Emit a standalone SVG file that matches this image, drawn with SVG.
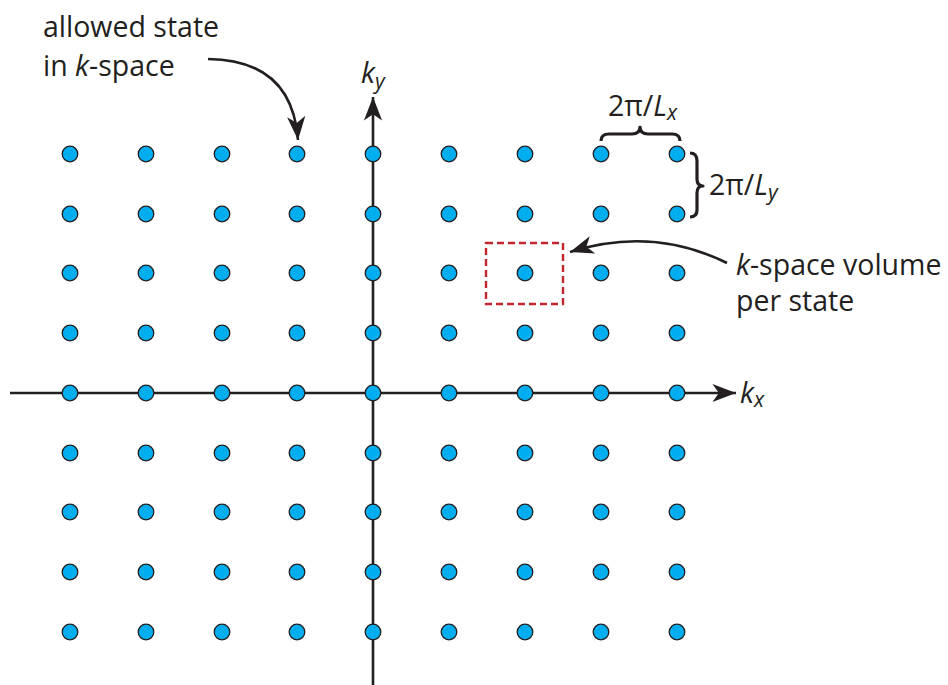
<svg xmlns="http://www.w3.org/2000/svg" width="948" height="685" viewBox="0 0 948 685">
<defs>
<style>
.t{font-family:"Open Sans","Noto Sans",sans-serif;font-size:28.5px;fill:#231f20}
.i{font-style:italic}
.ax{stroke:#231f20;stroke-width:2.6;fill:none}
.ln{stroke:#231f20;stroke-width:2.6;fill:none}
.br{stroke:#231f20;stroke-width:3.2;fill:none;stroke-linejoin:round}
.dot{fill:#00aeef;stroke:#231f20;stroke-width:1.3}
</style>
<marker id="ah" markerUnits="userSpaceOnUse" markerWidth="30" markerHeight="30" viewBox="-24 -12 28 24" refX="0" refY="0" orient="auto">
<path d="M0,0 L-22,-8.5 L-16,0 L-22,8.5 Z" fill="#231f20"/>
</marker>
</defs>
<rect width="948" height="685" fill="#fff"/>
<g id="connectors">
<line id="kx-axis" class="ax" x1="10" y1="393" x2="736" y2="393" marker-end="url(#ah)"/>
<line id="ky-axis" class="ax" x1="373" y1="685" x2="373" y2="97" marker-end="url(#ah)"/>
<path id="arrow-allowed" class="ln" d="M208,59 Q292,60 298,140" marker-end="url(#ah)"/>
<path id="arrow-volume" class="ln" d="M727,263 Q652,226 570,252" marker-end="url(#ah)"/>
</g>
<g id="grid">
<g id="r1"><circle class="dot" cx="70" cy="154" r="7.8"/><circle class="dot" cx="146" cy="154" r="7.8"/><circle class="dot" cx="222" cy="154" r="7.8"/><circle class="dot" cx="297" cy="154" r="7.8"/><circle class="dot" cx="373" cy="154" r="7.8"/><circle class="dot" cx="449" cy="154" r="7.8"/><circle class="dot" cx="525" cy="154" r="7.8"/><circle class="dot" cx="601" cy="154" r="7.8"/><circle class="dot" cx="677" cy="154" r="7.8"/></g>
<g id="r2"><circle class="dot" cx="70" cy="214" r="7.8"/><circle class="dot" cx="146" cy="214" r="7.8"/><circle class="dot" cx="222" cy="214" r="7.8"/><circle class="dot" cx="297" cy="214" r="7.8"/><circle class="dot" cx="373" cy="214" r="7.8"/><circle class="dot" cx="449" cy="214" r="7.8"/><circle class="dot" cx="525" cy="214" r="7.8"/><circle class="dot" cx="601" cy="214" r="7.8"/><circle class="dot" cx="677" cy="214" r="7.8"/></g>
<g id="r3"><circle class="dot" cx="70" cy="273" r="7.8"/><circle class="dot" cx="146" cy="273" r="7.8"/><circle class="dot" cx="222" cy="273" r="7.8"/><circle class="dot" cx="297" cy="273" r="7.8"/><circle class="dot" cx="373" cy="273" r="7.8"/><circle class="dot" cx="449" cy="273" r="7.8"/><circle class="dot" cx="525" cy="273" r="7.8"/><circle class="dot" cx="601" cy="273" r="7.8"/><circle class="dot" cx="677" cy="273" r="7.8"/></g>
<g id="r4"><circle class="dot" cx="70" cy="333" r="7.8"/><circle class="dot" cx="146" cy="333" r="7.8"/><circle class="dot" cx="222" cy="333" r="7.8"/><circle class="dot" cx="297" cy="333" r="7.8"/><circle class="dot" cx="373" cy="333" r="7.8"/><circle class="dot" cx="449" cy="333" r="7.8"/><circle class="dot" cx="525" cy="333" r="7.8"/><circle class="dot" cx="601" cy="333" r="7.8"/><circle class="dot" cx="677" cy="333" r="7.8"/></g>
<g id="r5"><circle class="dot" cx="70" cy="393" r="7.8"/><circle class="dot" cx="146" cy="393" r="7.8"/><circle class="dot" cx="222" cy="393" r="7.8"/><circle class="dot" cx="297" cy="393" r="7.8"/><circle class="dot" cx="373" cy="393" r="7.8"/><circle class="dot" cx="449" cy="393" r="7.8"/><circle class="dot" cx="525" cy="393" r="7.8"/><circle class="dot" cx="601" cy="393" r="7.8"/><circle class="dot" cx="677" cy="393" r="7.8"/></g>
<g id="r6"><circle class="dot" cx="70" cy="453" r="7.8"/><circle class="dot" cx="146" cy="453" r="7.8"/><circle class="dot" cx="222" cy="453" r="7.8"/><circle class="dot" cx="297" cy="453" r="7.8"/><circle class="dot" cx="373" cy="453" r="7.8"/><circle class="dot" cx="449" cy="453" r="7.8"/><circle class="dot" cx="525" cy="453" r="7.8"/><circle class="dot" cx="601" cy="453" r="7.8"/><circle class="dot" cx="677" cy="453" r="7.8"/></g>
<g id="r7"><circle class="dot" cx="70" cy="512" r="7.8"/><circle class="dot" cx="146" cy="512" r="7.8"/><circle class="dot" cx="222" cy="512" r="7.8"/><circle class="dot" cx="297" cy="512" r="7.8"/><circle class="dot" cx="373" cy="512" r="7.8"/><circle class="dot" cx="449" cy="512" r="7.8"/><circle class="dot" cx="525" cy="512" r="7.8"/><circle class="dot" cx="601" cy="512" r="7.8"/><circle class="dot" cx="677" cy="512" r="7.8"/></g>
<g id="r8"><circle class="dot" cx="70" cy="572" r="7.8"/><circle class="dot" cx="146" cy="572" r="7.8"/><circle class="dot" cx="222" cy="572" r="7.8"/><circle class="dot" cx="297" cy="572" r="7.8"/><circle class="dot" cx="373" cy="572" r="7.8"/><circle class="dot" cx="449" cy="572" r="7.8"/><circle class="dot" cx="525" cy="572" r="7.8"/><circle class="dot" cx="601" cy="572" r="7.8"/><circle class="dot" cx="677" cy="572" r="7.8"/></g>
<g id="r9"><circle class="dot" cx="70" cy="632" r="7.8"/><circle class="dot" cx="146" cy="632" r="7.8"/><circle class="dot" cx="222" cy="632" r="7.8"/><circle class="dot" cx="297" cy="632" r="7.8"/><circle class="dot" cx="373" cy="632" r="7.8"/><circle class="dot" cx="449" cy="632" r="7.8"/><circle class="dot" cx="525" cy="632" r="7.8"/><circle class="dot" cx="601" cy="632" r="7.8"/><circle class="dot" cx="677" cy="632" r="7.8"/></g>
</g>
<g id="volume-box">
<rect x="486" y="243" width="77" height="61" fill="none" stroke="#c1272d" stroke-width="2.4" stroke-dasharray="7,4"/>
</g>
<g id="braces">
<path id="brace-x" class="br" d="M601,141 Q601,134 609,134 L632,134 Q640,134 640,127 Q640,134 648,134 L672,134 Q680,134 680,141"/>
<path id="brace-y" class="br" d="M690,153 Q697,153 697,161 L697,179 Q697,186 703,186 Q697,186 697,193 L697,210 Q697,217 690,217"/>
</g>
<g id="labels">
<g id="label-allowed"><text class="t" x="43" y="37">allowed state</text><text class="t" x="43" y="76">in <tspan class="i">k</tspan>-space</text></g>
<g id="label-volume"><text class="t" x="736" y="275"><tspan class="i">k</tspan>-space volume</text><text class="t" x="736" y="311">per state</text></g>
<g id="label-ky"><text class="t" x="361" y="83"><tspan class="i">k</tspan><tspan class="i" font-size="21" dy="6">y</tspan></text></g>
<g id="label-kx"><text class="t" x="740" y="403"><tspan class="i">k</tspan><tspan class="i" font-size="21" dy="4">x</tspan></text></g>
<g id="label-Lx"><text class="t" x="608" y="116">2π/<tspan class="i">L</tspan><tspan class="i" font-size="21" dy="4">x</tspan></text></g>
<g id="label-Ly"><text class="t" x="709" y="195">2π/<tspan class="i">L</tspan><tspan class="i" font-size="21" dy="5">y</tspan></text></g>
</g>
</svg>
